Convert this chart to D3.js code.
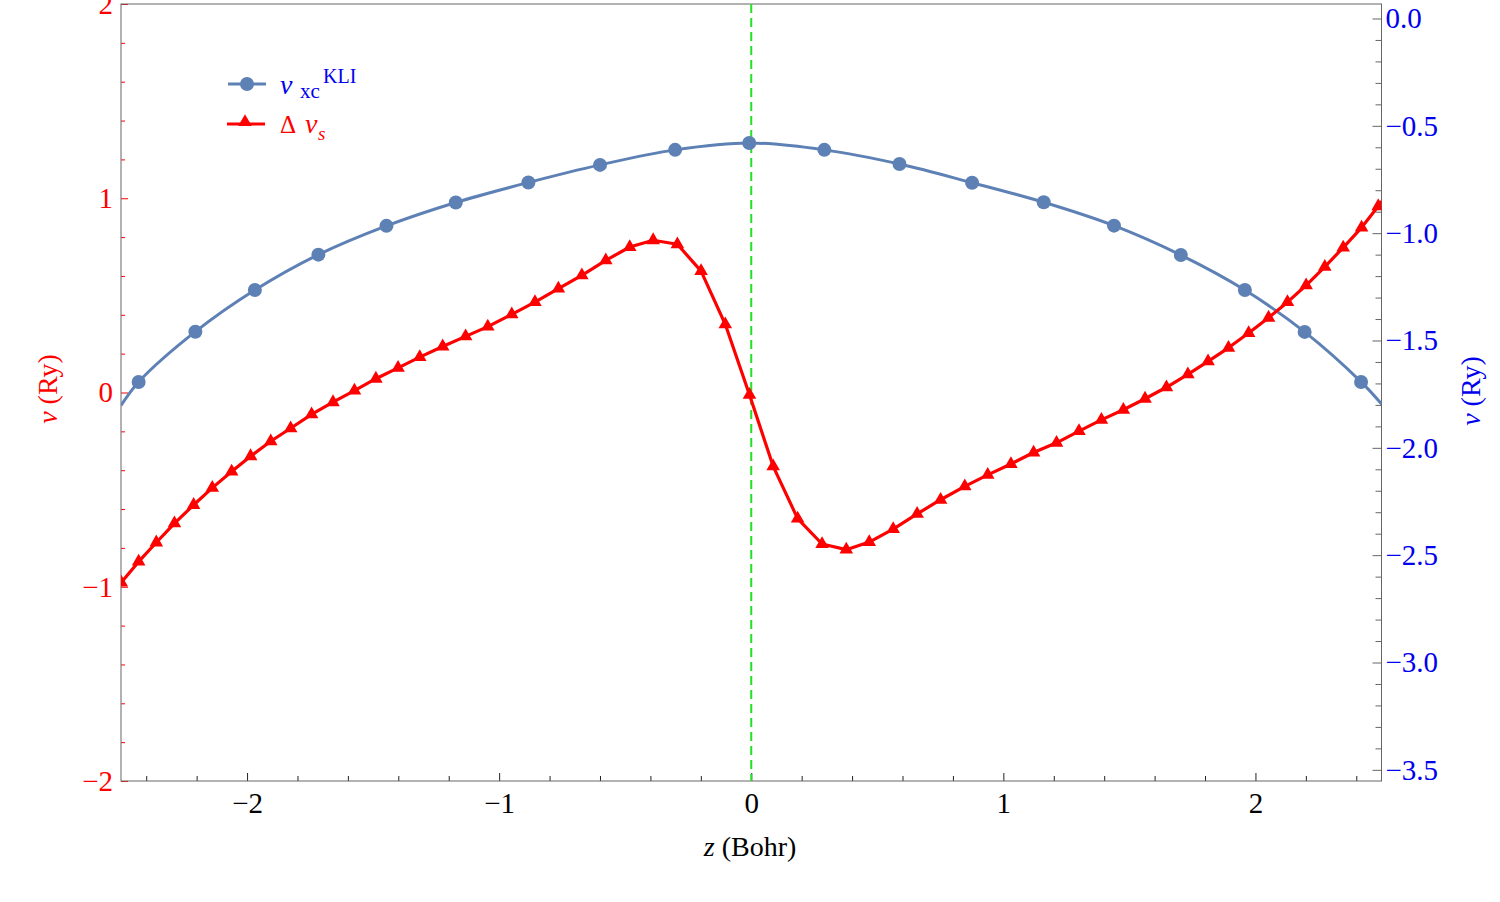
<!DOCTYPE html>
<html>
<head>
<meta charset="utf-8">
<script src="https://cdn.jsdelivr.net/npm/d3@7"></script>
<style>
  html, body { margin: 0; padding: 0; background: #fff; }
  svg { display: block; }
  text { font-family: "Liberation Serif", "Times New Roman", serif; }
</style>
</head>
<body>
<svg id="chart" width="1500" height="902"></svg>
<script>
// ---------------- data ----------------
const zDomain = [-2.5, 2.5];
const leftDomain = [-2, 2];
const rightDomain = [-3.552, 0.0675];

const zTicks = [-2, -1, 0, 1, 2];
const leftTicks = [-2, -1, 0, 1, 2];
const rightTicks = [0.0, -0.5, -1.0, -1.5, -2.0, -2.5, -3.0, -3.5];

// v_xc^KLI (right axis); first and last entries are the curve ends at the frame
const vxcZ = [-2.5, -2.430, -2.205, -1.969, -1.717, -1.447, -1.172, -0.884, -0.600, -0.302, -0.008,
              0.290, 0.588, 0.876, 1.160, 1.439, 1.704, 1.958, 2.195, 2.419, 2.5];
const vxcV = [-1.803, -1.693, -1.459, -1.265, -1.100, -0.966, -0.857, -0.764, -0.682, -0.612, -0.580,
              -0.612, -0.678, -0.765, -0.856, -0.965, -1.102, -1.265, -1.460, -1.693, -1.796];

// Delta v_s (left axis); last entry is the line end at the frame
const dvsZ = [-2.499, -2.430, -2.360, -2.288, -2.212, -2.138, -2.061, -1.986, -1.906, -1.827,
              -1.744, -1.659, -1.574, -1.489, -1.401, -1.315, -1.224, -1.133, -1.045, -0.950,
              -0.858, -0.765, -0.672, -0.577, -0.482, -0.389, -0.293, -0.199, -0.103, -0.007,
              0.087, 0.184, 0.281, 0.377, 0.468, 0.563, 0.658, 0.751, 0.847, 0.938,
              1.030, 1.120, 1.211, 1.300, 1.389, 1.476, 1.562, 1.647, 1.732, 1.812,
              1.893, 1.973, 2.052, 2.127, 2.201, 2.275, 2.348, 2.421, 2.487, 2.5];
const dvsV = [-0.978, -0.871, -0.772, -0.674, -0.579, -0.491, -0.407, -0.328, -0.251, -0.184,
              -0.113, -0.050, 0.010, 0.071, 0.127, 0.182, 0.237, 0.289, 0.339, 0.402,
              0.465, 0.535, 0.603, 0.680, 0.749, 0.784, 0.763, 0.625, 0.351, -0.012,
              -0.380, -0.649, -0.780, -0.809, -0.770, -0.703, -0.625, -0.552, -0.483, -0.424,
              -0.368, -0.309, -0.259, -0.199, -0.141, -0.089, -0.032, 0.027, 0.093, 0.160,
              0.230, 0.306, 0.385, 0.465, 0.552, 0.647, 0.746, 0.849, 0.959, 0.985];

// ---------------- layout ----------------
const L = 121, R = 1381.5, T = 4, B = 781;
const svg = d3.select("#chart");

const x = d3.scaleLinear().domain(zDomain).range([L, R]);
const yL = d3.scaleLinear().domain(leftDomain).range([B, T]);
const yR = d3.scaleLinear().domain(rightDomain).range([B, T]);

const blue = "#5e81b5", red = "#ff0000", axisGray = "#666666", textBlue = "#0000ee";
const FS = 29;

svg.append("defs").append("clipPath").attr("id", "plotclip")
  .append("rect").attr("x", L).attr("y", T).attr("width", R - L).attr("height", B - T);

// minor tick values
const zMinor = d3.range(-24, 25, 2).map(d => d / 10).filter(d => Math.abs(d - Math.round(d)) > 1e-6);
const lMinor = d3.range(-20, 21, 2).map(d => d / 10).filter(d => Math.abs(d - Math.round(d)) > 1e-6);
const rMinor = d3.range(-35, 1, 1).map(d => d / 10).filter(d => Math.abs(d * 2 - Math.round(d * 2)) > 1e-6);

function styleAxis(g, color, labelColor) {
  g.select(".domain").remove();
  g.selectAll(".tick line").attr("stroke", color).attr("stroke-width", 1);
  g.selectAll(".tick text").attr("fill", labelColor)
    .style("font-family", '"Liberation Serif", serif').style("font-size", FS + "px");
}

// bottom axis
svg.append("g").attr("transform", `translate(0,${B})`)
  .call(d3.axisBottom(x).tickValues(zMinor).tickFormat("").tickSizeInner(-5).tickSizeOuter(0))
  .call(g => styleAxis(g, "#222", "#000"));
svg.append("g").attr("transform", `translate(0,${B})`)
  .call(d3.axisBottom(x).tickValues(zTicks).tickFormat(d3.format("d")).tickSizeInner(-8).tickSizeOuter(0).tickPadding(11))
  .call(g => styleAxis(g, "#222", "#000"));

// left axis
svg.append("g").attr("transform", `translate(${L},0)`)
  .call(d3.axisLeft(yL).tickValues(lMinor).tickFormat("").tickSizeInner(-4).tickSizeOuter(0))
  .call(g => styleAxis(g, red, red));
svg.append("g").attr("transform", `translate(${L},0)`)
  .call(d3.axisLeft(yL).tickValues(leftTicks).tickFormat(d3.format("d")).tickSizeInner(-7).tickSizeOuter(0).tickPadding(8))
  .call(g => styleAxis(g, red, red));

// right axis
svg.append("g").attr("transform", `translate(${R},0)`)
  .call(d3.axisRight(yR).tickValues(rMinor).tickFormat("").tickSizeInner(-6).tickSizeOuter(0))
  .call(g => styleAxis(g, axisGray, textBlue));
svg.append("g").attr("transform", `translate(${R},0)`)
  .call(d3.axisRight(yR).tickValues(rightTicks).tickFormat(d3.format(".1f")).tickSizeInner(-9).tickSizeOuter(0).tickPadding(4))
  .call(g => styleAxis(g, axisGray, textBlue));

// frame
svg.append("rect").attr("x", L).attr("y", T).attr("width", R - L).attr("height", B - T)
  .attr("fill", "none").attr("stroke", axisGray).attr("stroke-width", 1);

const plot = svg.append("g").attr("clip-path", "url(#plotclip)");

// vertical dashed line at z = 0
plot.append("line").attr("x1", x(0)).attr("x2", x(0)).attr("y1", T).attr("y2", B)
  .attr("stroke", "#22e022").attr("stroke-width", 2).attr("stroke-dasharray", "9,5");

// v_xc^KLI
const vxc = vxcZ.map((z, i) => ({ z, v: vxcV[i] }));
plot.append("path").datum(vxc)
  .attr("d", d3.line().x(d => x(d.z)).y(d => yR(d.v)).curve(d3.curveCatmullRom.alpha(0.5)))
  .attr("fill", "none").attr("stroke", blue).attr("stroke-width", 3);
plot.selectAll("circle.vxc").data(vxc.slice(1, -1)).join("circle").attr("class", "vxc")
  .attr("cx", d => x(d.z)).attr("cy", d => yR(d.v)).attr("r", 7).attr("fill", blue);

// Delta v_s
const dvs = dvsZ.map((z, i) => ({ z, v: dvsV[i] }));
plot.append("path").datum(dvs)
  .attr("d", d3.line().x(d => x(d.z)).y(d => yL(d.v)))
  .attr("fill", "none").attr("stroke", red).attr("stroke-width", 3.2).attr("stroke-linejoin", "round");
const tri = d3.symbol().type(d3.symbolTriangle).size(80);
plot.selectAll("path.dvs").data(dvs.slice(0, -1)).join("path").attr("class", "dvs")
  .attr("transform", d => `translate(${x(d.z)},${yL(d.v)})`).attr("d", tri).attr("fill", red);

// axis titles
const xt = svg.append("text").attr("x", 750).attr("y", 856).attr("text-anchor", "middle")
  .style("font-size", "28px").attr("fill", "#000");
xt.append("tspan").style("font-style", "italic").text("z");
xt.append("tspan").text(" (Bohr)");

const lt = svg.append("text").attr("transform", "translate(57,389) rotate(-90)").attr("text-anchor", "middle")
  .style("font-size", "28px").attr("fill", red);
lt.append("tspan").style("font-style", "italic").text("v");
lt.append("tspan").text(" (Ry)");

const rt = svg.append("text").attr("transform", "translate(1480,391) rotate(-90)").attr("text-anchor", "middle")
  .style("font-size", "28px").attr("fill", textBlue);
rt.append("tspan").style("font-style", "italic").text("v");
rt.append("tspan").text(" (Ry)");

// legend
const lg = svg.append("g");
lg.append("line").attr("x1", 228).attr("x2", 266).attr("y1", 84).attr("y2", 84)
  .attr("stroke", blue).attr("stroke-width", 3);
lg.append("circle").attr("cx", 247).attr("cy", 84).attr("r", 7).attr("fill", blue);
lg.append("text").attr("x", 280).attr("y", 94).style("font-size", "28px").style("font-style", "italic")
  .attr("fill", textBlue).text("v");
lg.append("text").attr("x", 300).attr("y", 98).style("font-size", "21px").attr("fill", textBlue).text("xc");
lg.append("text").attr("x", 323).attr("y", 83).style("font-size", "20px").attr("fill", textBlue).text("KLI");

lg.append("line").attr("x1", 227).attr("x2", 265).attr("y1", 124).attr("y2", 124)
  .attr("stroke", red).attr("stroke-width", 3.2);
lg.append("path").attr("transform", "translate(245,122)").attr("d", tri).attr("fill", red);
lg.append("text").attr("x", 280).attr("y", 133).style("font-size", "25px").attr("fill", red).text("Δ");
lg.append("text").attr("x", 305).attr("y", 133).style("font-size", "28px").style("font-style", "italic")
  .attr("fill", red).text("v");
lg.append("text").attr("x", 318).attr("y", 140).style("font-size", "19px").style("font-style", "italic")
  .attr("fill", red).text("s");
</script>
</body>
</html>
